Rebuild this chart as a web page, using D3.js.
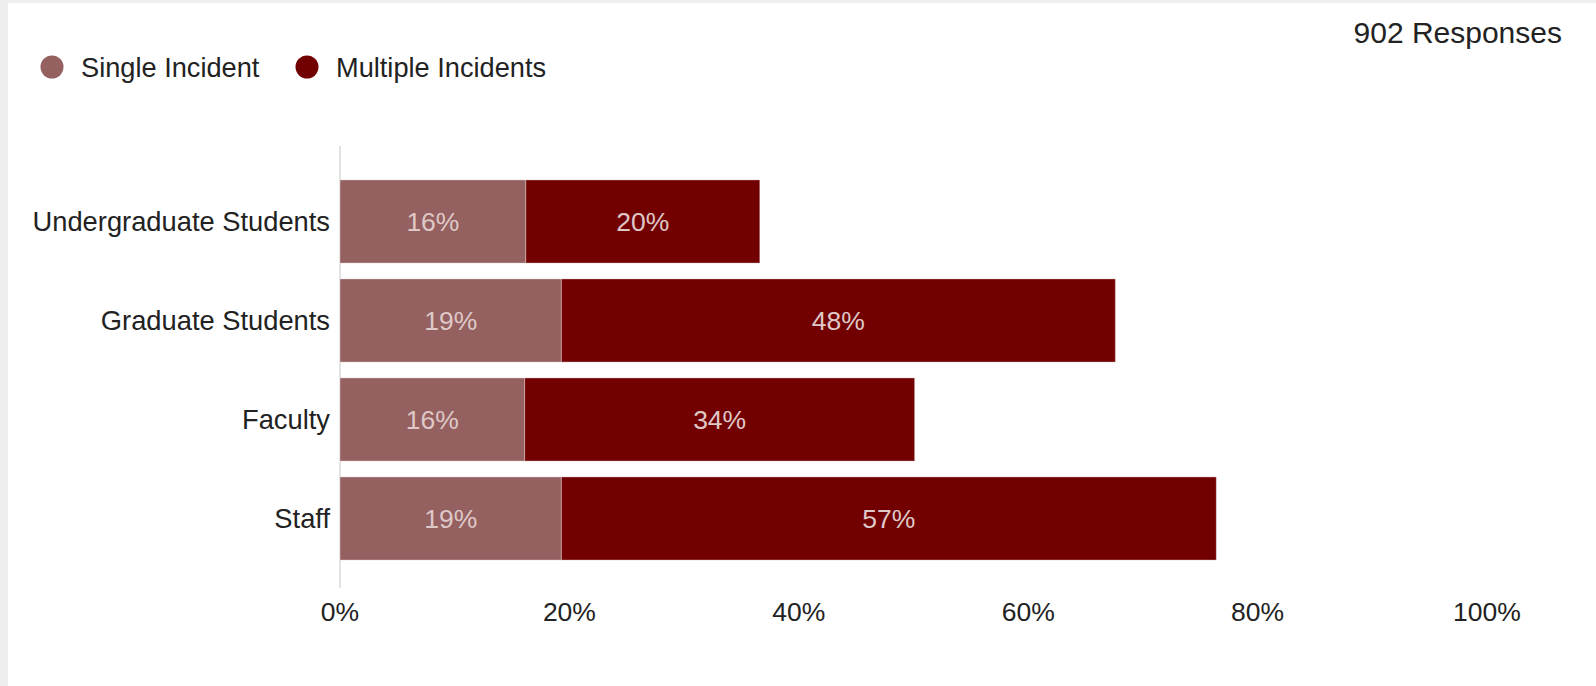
<!DOCTYPE html>
<html>
<head>
<meta charset="utf-8">
<script src="https://cdn.jsdelivr.net/npm/d3@7"></script>
<style>
  html, body { margin: 0; padding: 0; background: #eeeeee; }
  svg { display: block; }
  text { font-family: "Liberation Sans", Arial, sans-serif; }
</style>
</head>
<body>
<svg id="chart" width="1596" height="686"></svg>
<script>
const categories = ["Undergraduate Students", "Graduate Students", "Faculty", "Staff"];
const seriesNames = ["Single Incident", "Multiple Incidents"];
const singleIncident = [16.2, 19.3, 16.1, 19.3];
const multipleIncidents = [20.4, 48.3, 34.0, 57.1];
const tickValues = [0, 20, 40, 60, 80, 100];
const responsesLabel = "902 Responses";

const colors = ["#946060", "#720000"];

const svg = d3.select("#chart");
const W = 1596, H = 686;

// white panel
svg.append("rect").attr("x", 8).attr("y", 3).attr("width", W - 8).attr("height", H - 3).attr("fill", "#ffffff");

const x = d3.scaleLinear().domain([0, 100]).range([340, 1487]);
const y = d3.scaleBand().domain(categories).range([172, 568]).paddingInner(0.16).paddingOuter(0.08);

const rows = categories.map((c, i) => ({ cat: c, vals: [singleIncident[i], multipleIncidents[i]] }));
const stack = rows.map(r => {
  let acc = 0;
  return r.vals.map((v, k) => { const s = { cat: r.cat, k, v, x0: acc, x1: acc + v }; acc += v; return s; });
}).flat();

// axis line
svg.append("line")
  .attr("x1", x(0)).attr("x2", x(0))
  .attr("y1", 146).attr("y2", 588)
  .attr("stroke", "#e2e2e2").attr("stroke-width", 2);

// bars
svg.append("g").selectAll("rect").data(stack).join("rect")
  .attr("x", d => x(d.x0))
  .attr("y", d => y(d.cat))
  .attr("width", d => x(d.x1) - x(d.x0))
  .attr("height", y.bandwidth())
  .attr("fill", d => colors[d.k])
  .attr("stroke", "rgba(255,255,255,0.35)")
  .attr("stroke-width", 1);

// bar labels
svg.append("g").selectAll("text").data(stack).join("text")
  .attr("x", d => (x(d.x0) + x(d.x1)) / 2)
  .attr("y", d => y(d.cat) + y.bandwidth() / 2)
  .attr("dy", "0.36em")
  .attr("text-anchor", "middle")
  .attr("font-size", 26.5)
  .attr("fill", "#dfc8c8")
  .text(d => Math.round(d.v) + "%");

// category labels
svg.append("g").selectAll("text").data(categories).join("text")
  .attr("x", 330)
  .attr("y", d => y(d) + y.bandwidth() / 2)
  .attr("dy", "0.36em")
  .attr("text-anchor", "end")
  .attr("font-size", 27.3)
  .attr("fill", "#222222")
  .text(d => d);

// x tick labels
svg.append("g").selectAll("text").data(tickValues).join("text")
  .attr("x", d => x(d))
  .attr("y", 621)
  .attr("text-anchor", "middle")
  .attr("font-size", 26.5)
  .attr("fill", "#222222")
  .text(d => d + "%");

// responses
svg.append("text")
  .attr("x", 1562).attr("y", 43)
  .attr("text-anchor", "end")
  .attr("font-size", 30)
  .attr("fill", "#222222")
  .text(responsesLabel);

// legend
const legendX = [52, 307];
const lg = svg.append("g").selectAll("g").data(seriesNames).join("g")
  .attr("transform", (d, i) => `translate(${legendX[i]},67)`);
lg.append("circle").attr("r", 11.5).attr("fill", (d, i) => colors[i]);
lg.append("text").attr("x", 29).attr("y", 0).attr("dy", "0.36em")
  .attr("font-size", 27.2).attr("fill", "#222222").text(d => d);
</script>
</body>
</html>
